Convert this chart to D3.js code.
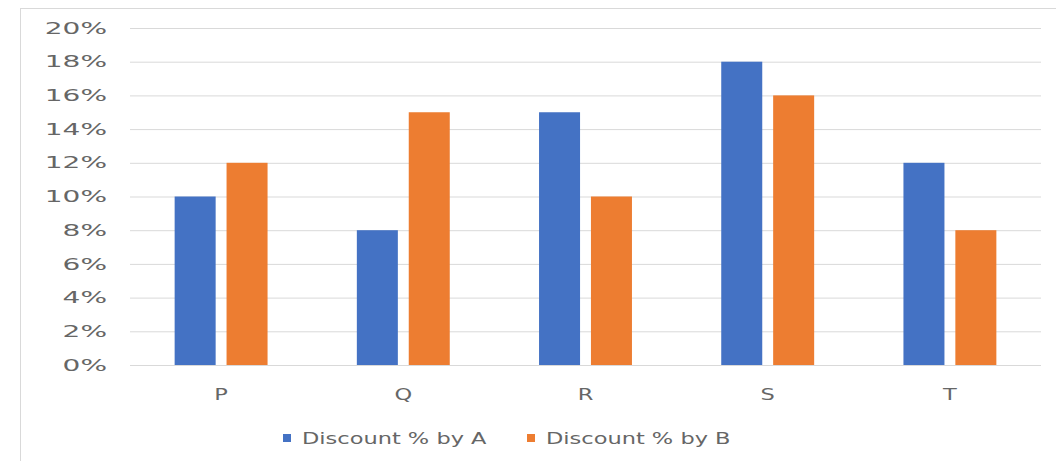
<!DOCTYPE html>
<html>
<head>
<meta charset="utf-8">
<script src="https://cdn.jsdelivr.net/npm/d3@7"></script>
<style>
  body { margin: 0; background: #fff; }
  text { font-family: "DejaVu Sans", sans-serif; fill: #666; }
</style>
</head>
<body>
<div id="chart"></div>
<script>
// data
var categories = ["P", "Q", "R", "S", "T"];
var seriesNames = ["Discount % by A", "Discount % by B"];
var valuesA = [0.10, 0.08, 0.15, 0.18, 0.12];
var valuesB = [0.12, 0.15, 0.10, 0.16, 0.08];
var yTicks = [0, 0.02, 0.04, 0.06, 0.08, 0.10, 0.12, 0.14, 0.16, 0.18, 0.20];

var colors = ["#4472C4", "#ED7D31"];
var sx = 1.5;   // horizontal stretch of the text, like the picture
var syx = 1.75; // y labels are stretched a bit more

var W = 1056, H = 461;
var margin = {top: 28, right: 15, bottom: 96, left: 130},
    width = W - margin.left - margin.right,
    height = H - margin.top - margin.bottom;

var root = d3.select("#chart").append("svg")
    .attr("width", W)
    .attr("height", H);

// outer frame (only top and left edges show)
root.append("line").attr("x1", 20.5).attr("x2", 20.5).attr("y1", 8).attr("y2", H)
    .attr("stroke", "#d9d9d9");
root.append("line").attr("x1", 20).attr("x2", W).attr("y1", 8.5).attr("y2", 8.5)
    .attr("stroke", "#d9d9d9");

var svg = root.append("g")
    .attr("transform", "translate(" + margin.left + "," + margin.top + ")");

var data = categories.map(function(c, i) {
  return {cat: c, vals: [valuesA[i], valuesB[i]]};
});

var x0 = d3.scaleBand().domain(categories).range([0, width]).padding(0);
var x1 = d3.scaleBand().domain([0, 1]).range([0, x0.bandwidth()])
    .paddingInner(0.21).paddingOuter(0.86);
var y = d3.scaleLinear().domain([0, 0.2]).range([height, 0]);

// gridlines + y labels
var yAxis = svg.append("g")
    .call(d3.axisLeft(y).tickValues(yTicks).tickFormat(d3.format(".0%"))
      .tickSize(-width).tickPadding(0));
yAxis.select(".domain").remove();
yAxis.selectAll(".tick line").attr("stroke", "#d9d9d9");
yAxis.selectAll(".tick text")
    .attr("x", -23 / syx)
    .attr("transform", "scale(" + syx + ",1)")
    .style("font-size", "16px")
    .style("fill", "#666");

// bars
svg.append("g").selectAll("g")
  .data(data)
  .enter().append("g")
    .attr("transform", function(d) { return "translate(" + x0(d.cat) + ",0)"; })
  .selectAll("rect")
  .data(function(d) { return d.vals; })
  .enter().append("rect")
    .attr("x", function(d, i) { return x1(i); })
    .attr("width", x1.bandwidth())
    .attr("y", function(d) { return y(d); })
    .attr("height", function(d) { return height - y(d); })
    .attr("fill", function(d, i) { return colors[i]; });

// x labels
var xAxis = svg.append("g")
    .attr("transform", "translate(0," + height + ")")
    .call(d3.axisBottom(x0).tickSize(0).tickPadding(0));
xAxis.select(".domain").remove();
xAxis.selectAll(".tick text")
    .attr("y", 24)
    .attr("transform", "scale(" + sx + ",1)")
    .style("font-size", "15px")
    .style("fill", "#666");

// legend
var legendX = [283, 527];
seriesNames.forEach(function(name, i) {
  root.append("rect")
    .attr("x", legendX[i]).attr("y", 434)
    .attr("width", 8).attr("height", 8)
    .attr("fill", colors[i]);
  root.append("text")
    .attr("transform", "translate(" + (legendX[i] + 19) + ",444) scale(" + sx + ",1)")
    .style("font-size", "15px")
    .text(name);
});
</script>
</body>
</html>
